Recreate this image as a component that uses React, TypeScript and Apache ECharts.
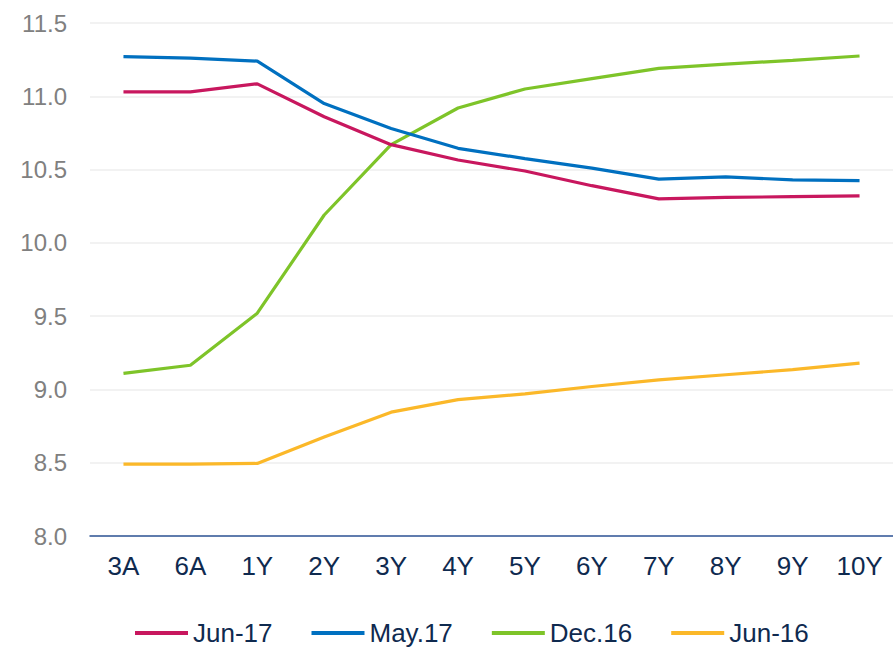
import React, { useEffect, useRef } from "react";
import * as echarts from "echarts";

const categories = ["3A", "6A", "1Y", "2Y", "3Y", "4Y", "5Y", "6Y", "7Y", "8Y", "9Y", "10Y"];
const yTicks = [8.0, 8.5, 9.0, 9.5, 10.0, 10.5, 11.0, 11.5];

const jun17 = [11.03, 11.03, 11.085, 10.86, 10.67, 10.565, 10.49, 10.39, 10.3, 10.31, 10.315, 10.32];
const may17 = [11.27, 11.26, 11.24, 10.95, 10.78, 10.645, 10.575, 10.51, 10.435, 10.45, 10.43, 10.425];
const dec16 = [9.11, 9.165, 9.52, 10.19, 10.67, 10.92, 11.05, 11.12, 11.19, 11.22, 11.245, 11.275];
const jun16 = [8.49, 8.49, 8.495, 8.675, 8.845, 8.93, 8.97, 9.02, 9.065, 9.1, 9.135, 9.18];

const seriesNames = ["Jun-17", "May.17", "Dec.16", "Jun-16"];
const seriesColors = ["#C8175E", "#0070C0", "#7EC429", "#FBB829"];

const FONT = "Liberation Sans, Arial, sans-serif";

export default function App() {
  const ref = useRef<HTMLDivElement>(null);
  useEffect(() => {
    document.body.style.margin = "0";
    if (!ref.current) return;
    const chart = echarts.init(ref.current, undefined, { renderer: "svg" });
    const datasets = [jun17, may17, dec16, jun16];
    chart.setOption({
      animation: false,
      textStyle: { fontFamily: FONT },
      grid: { left: 90, right: -6, top: 23, bottom: 113, containLabel: false },
      legend: {
        left: 135,
        top: 620,
        padding: 0,
        icon: "rect",
        itemWidth: 53,
        itemHeight: 4,
        itemGap: 39,
        textStyle: { color: "#0F2A4F", fontSize: 26, fontFamily: FONT },
        data: seriesNames,
      },
      xAxis: {
        type: "category",
        data: categories,
        boundaryGap: true,
        axisLine: { show: true, lineStyle: { color: "#2F5597", width: 1.5 } },
        axisTick: { show: false },
        axisLabel: { color: "#0F2A4F", fontSize: 26, margin: 17, fontFamily: FONT },
      },
      yAxis: {
        type: "value",
        min: yTicks[0],
        max: yTicks[yTicks.length - 1],
        interval: 0.5,
        axisLine: { show: false },
        axisTick: { show: false },
        axisLabel: {
          color: "#808080",
          fontSize: 24,
          margin: 23,
          fontFamily: FONT,
          formatter: (v: number) => v.toFixed(1),
        },
        splitLine: { show: true, lineStyle: { color: "#EEEEEE", width: 1.5 } },
      },
      series: seriesNames.map((name, i) => ({
        name,
        type: "line",
        data: datasets[i],
        symbol: "none",
        smooth: false,
        lineStyle: { color: seriesColors[i], width: 3.2 },
        itemStyle: { color: seriesColors[i] },
        z: 10 - i,
      })),
    });
    return () => chart.dispose();
  }, []);
  return <div ref={ref} style={{ width: 893, height: 649 }} />;
}
